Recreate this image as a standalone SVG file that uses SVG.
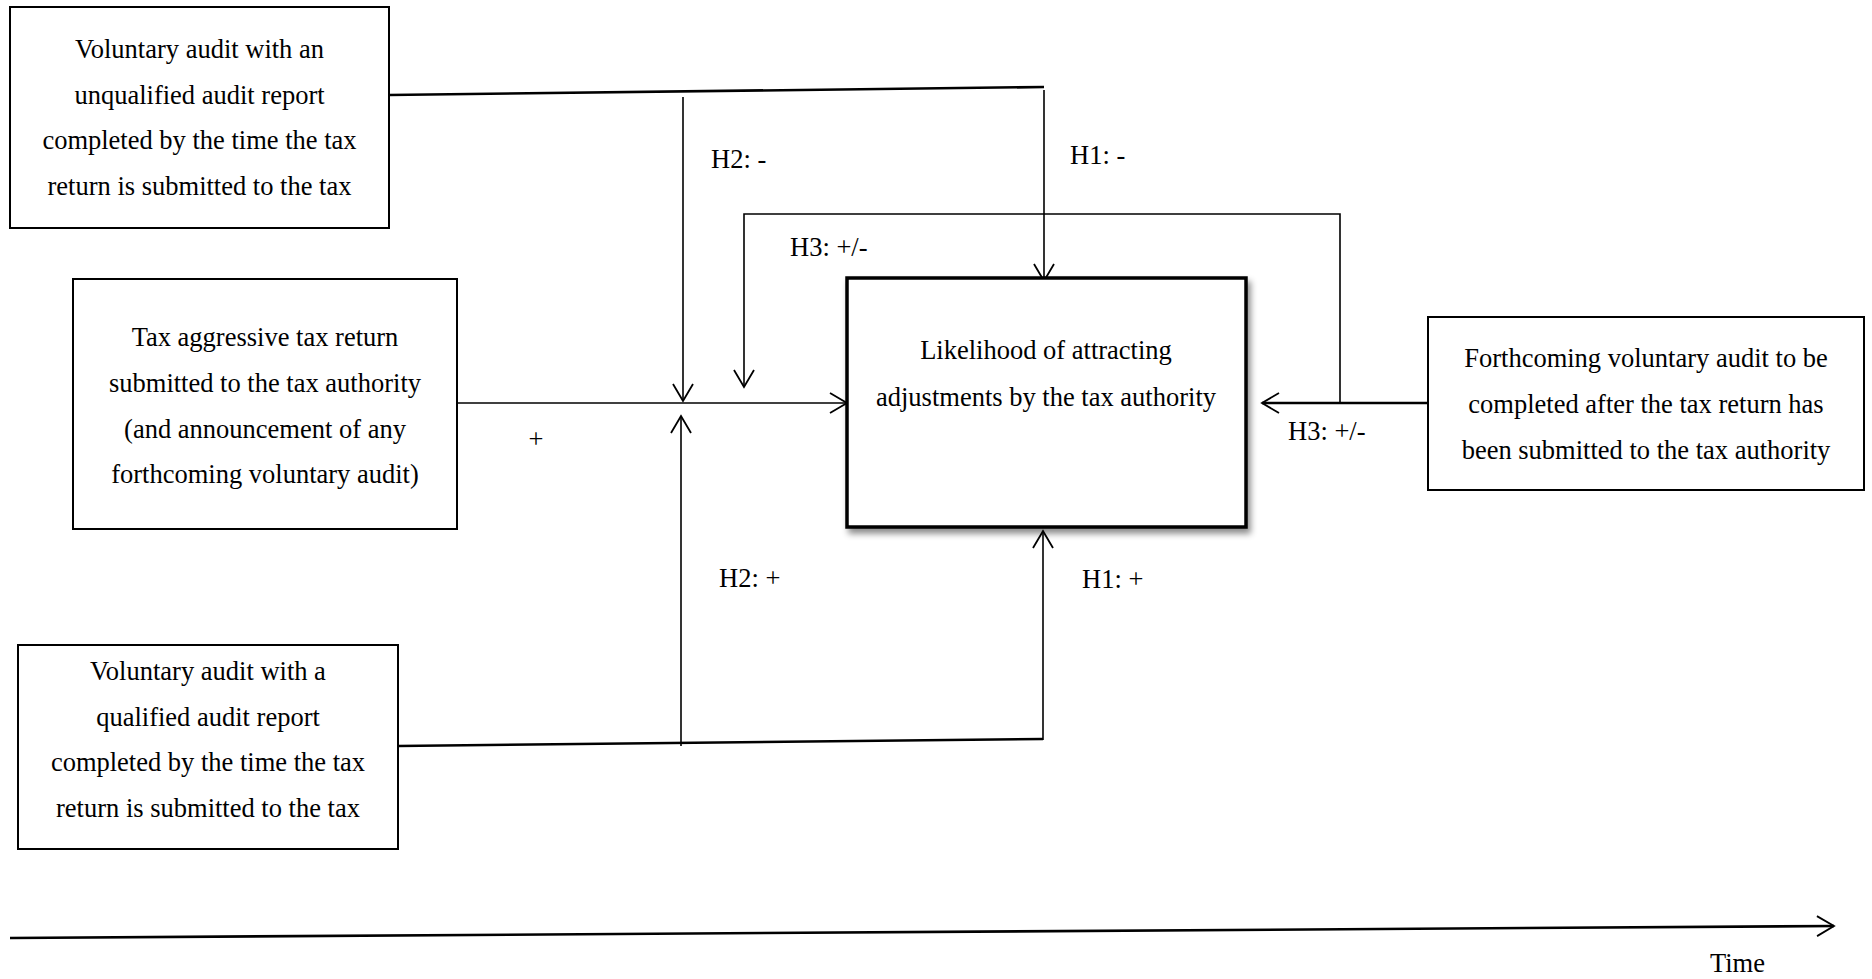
<svg xmlns="http://www.w3.org/2000/svg" width="1872" height="979" viewBox="0 0 1872 979">
<style>
  text { font-family: "Liberation Serif", "Times New Roman", serif; font-size: 26.5px; fill: #000; }
  .c { text-anchor: middle; }
  .box { fill: #fff; stroke: #000; stroke-width: 2; }
  .main { fill: #fff; stroke: #000; stroke-width: 3.5; }
  .ln { fill: none; stroke: #000; stroke-width: 1.6; }
  .bold { fill: none; stroke: #000; stroke-width: 2.6; }
</style>
<defs>
  <marker id="ah" markerUnits="userSpaceOnUse" markerWidth="40" markerHeight="40" viewBox="-20 -20 40 40" refX="0" refY="0" orient="auto" overflow="visible">
    <path d="M-17,-10 L0,0 L-17,10" fill="none" stroke="#000" stroke-width="1.8"/>
  </marker>
  <filter id="sh" x="-10%" y="-10%" width="120%" height="125%">
    <feDropShadow dx="3" dy="5" stdDeviation="3" flood-color="#000" flood-opacity="0.45"/>
  </filter>
</defs>

<g id="connectors">
  <polyline class="bold" points="389,95 1044,87"/>
  <line class="ln" x1="1044" y1="90" x2="1044" y2="281" marker-end="url(#ah)"/>
  <line class="ln" x1="683" y1="97" x2="683" y2="401" marker-end="url(#ah)"/>
  <line class="ln" x1="457" y1="403" x2="847" y2="403" marker-end="url(#ah)"/>
  <line class="ln" x1="681" y1="746" x2="681" y2="416" marker-end="url(#ah)"/>
  <polyline class="bold" points="398,746 1043,739"/>
  <line class="ln" x1="1043" y1="740" x2="1043" y2="531" marker-end="url(#ah)"/>
  <polyline class="ln" points="1340,403 1340,214 744,214 744,387" marker-end="url(#ah)"/>
  <line class="bold" x1="1428" y1="403" x2="1262" y2="403" marker-end="url(#ah)"/>
  <line class="bold" x1="10" y1="938" x2="1834" y2="926" marker-end="url(#ah)"/>
</g>

<g id="labels">
  <text x="711" y="168">H2: -</text>
  <text x="1070" y="164">H1: -</text>
  <text x="790" y="256">H3: +/-</text>
  <text x="1288" y="440">H3: +/-</text>
  <text x="719" y="587">H2: +</text>
  <text x="1082" y="588">H1: +</text>
  <text class="c" x="536" y="448">+</text>
  <text x="1710" y="972">Time</text>
</g>

<g id="node-unqualified">
  <rect class="box" x="10" y="7" width="379" height="221"/>
  <text class="c" x="199.5" y="58">Voluntary audit with an</text>
  <text class="c" x="199.5" y="104">unqualified audit report</text>
  <text class="c" x="199.5" y="149">completed by the time the tax</text>
  <text class="c" x="199.5" y="195">return is submitted to the tax</text>
</g>

<g id="node-taxreturn">
  <rect class="box" x="73" y="279" width="384" height="250"/>
  <text class="c" x="265" y="346">Tax aggressive tax return</text>
  <text class="c" x="265" y="392">submitted to the tax authority</text>
  <text class="c" x="265" y="438">(and announcement of any</text>
  <text class="c" x="265" y="483">forthcoming voluntary audit)</text>
</g>

<g id="node-likelihood">
  <rect class="main" x="847" y="278" width="399" height="249" filter="url(#sh)"/>
  <text class="c" x="1046" y="359">Likelihood of attracting</text>
  <text class="c" x="1046" y="406">adjustments by the tax authority</text>
</g>

<g id="node-forthcoming">
  <rect class="box" x="1428" y="317" width="436" height="173"/>
  <text class="c" x="1646" y="367">Forthcoming voluntary audit to be</text>
  <text class="c" x="1646" y="413">completed after the tax return has</text>
  <text class="c" x="1646" y="459">been submitted to the tax authority</text>
</g>

<g id="node-qualified">
  <rect class="box" x="18" y="645" width="380" height="204"/>
  <text class="c" x="208" y="680">Voluntary audit with a</text>
  <text class="c" x="208" y="726">qualified audit report</text>
  <text class="c" x="208" y="771">completed by the time the tax</text>
  <text class="c" x="208" y="817">return is submitted to the tax</text>
</g>
</svg>
